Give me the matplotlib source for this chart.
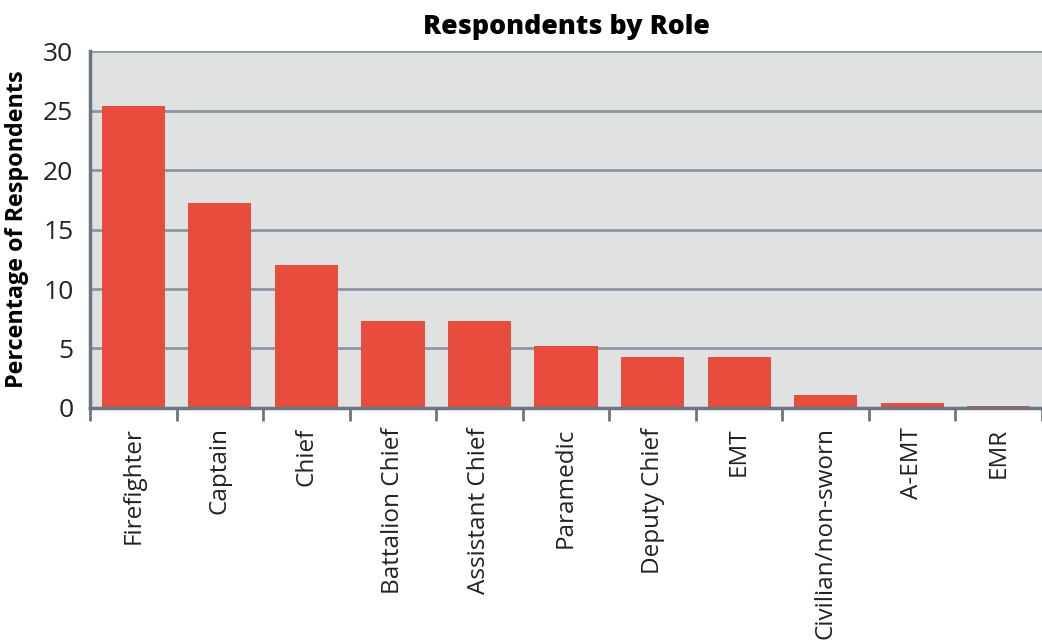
import numpy as np
import matplotlib.pyplot as plt

# roles and share of respondents (%)
roles = ['Firefighter', 'Captain', 'Chief', 'Battalion Chief', 'Assistant Chief',
         'Paramedic', 'Deputy Chief', 'EMT', 'Civilian/non-sworn', 'A-EMT', 'EMR']
percent = [25.4, 17.2, 12.0, 7.3, 7.3, 5.2, 4.3, 4.3, 1.1, 0.4, 0.2]

plt.rcParams['font.family'] = ['Open Sans', 'DejaVu Sans']

fig = plt.figure(figsize=(10.42, 6.42), dpi=100)
ax = fig.add_axes([0.0864, 0.3645, 0.9136, 0.556])

x = np.arange(len(roles))
ax.bar(x, percent, width=0.73, color='#e84c3d', zorder=3)

ax.set_facecolor('#e0e1e1')
ax.set_xlim(-0.5, len(roles) - 0.5)
ax.set_ylim(0, 30)
ax.set_yticks(range(0, 31, 5))
ax.yaxis.grid(True, color='#8d97a1', linewidth=2, zorder=1)
ax.tick_params(axis='y', length=0, labelsize=19, labelcolor='#222222', pad=12)

# category names on major ticks, tick marks between categories
ax.set_xticks(x)
ax.set_xticklabels(roles, rotation=90, fontsize=17.5, color='#222222')
ax.tick_params(axis='x', which='major', length=0, pad=14)
ax.set_xticks(np.arange(-0.5, len(roles)), minor=True)
ax.tick_params(axis='x', which='minor', length=9, width=2, color='#6b7682')

for side in ['top', 'right']:
    ax.spines[side].set_visible(False)
for side in ['left', 'bottom']:
    ax.spines[side].set_color('#6b7682')
    ax.spines[side].set_linewidth(2.5)
    ax.spines[side].set_zorder(4)

ax.set_ylabel('Percentage of Respondents', fontsize=16.8, fontweight='bold', labelpad=10)
ax.set_title('Respondents by Role', fontsize=19.3, fontweight='heavy', pad=12)

fig.savefig('out.png', dpi=100)
